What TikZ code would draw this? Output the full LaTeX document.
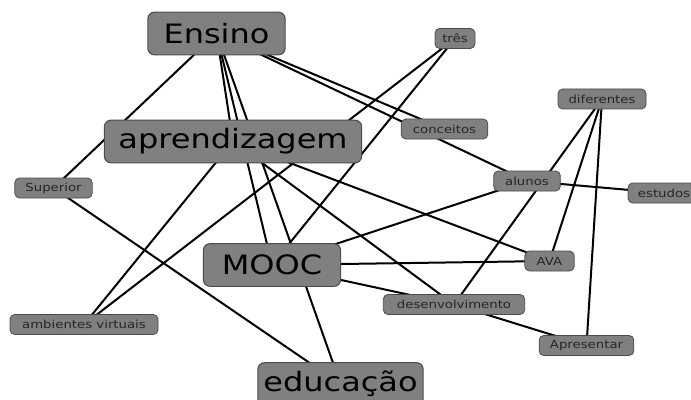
\documentclass[tikz,border=0pt]{standalone}
\usepackage{fontspec}
\setmainfont{DejaVu Sans}
\newfontfamily\mapfont[FakeStretch=1.2]{DejaVu Sans}
\usetikzlibrary{backgrounds}

\begin{document}
\begin{tikzpicture}[
        x=0.75pt, y=-0.75pt,
        big word/.style={draw=black!70, fill=black!50, rounded corners=5pt, line width=0.8pt,
          minimum height=32pt, inner sep=0pt, font=\mapfont\fontsize{20}{24}\selectfont},
        small word/.style={draw=black!70, fill=black!50, rounded corners=3.5pt, line width=0.6pt,
          minimum height=15pt, inner sep=0pt, text=black!85, font=\mapfont\fontsize{8.3}{10}\selectfont},
        link/.style={line width=1.5pt}
      ]

      \useasboundingbox (0,0) rectangle (691,399);

      % main terms
      \node[big word, minimum width=103pt] (ensino) at (216.5,33.5) {Ensino};
      \node[big word, minimum width=193pt] (aprend) at (233,141.5) {aprendizagem};
      \node[big word, minimum width=103pt] (mooc) at (272,265) {MOOC};
      \node[big word, minimum width=124pt] (educacao) at (340.5,384) {educação};

      % smaller terms
      \node[small word, minimum width=58pt] (superior) at (53.5,188) {Superior};
      \node[small word, minimum width=30pt] (tres) at (455,38.5) {três};
      \node[small word, minimum width=65pt] (conceitos) at (444.5,129) {conceitos};
      \node[small word, minimum width=66pt] (diferentes) at (602,99) {diferentes};
      \node[small word, minimum width=50pt] (alunos) at (527,181) {alunos};
      \node[small word, minimum width=54pt] (estudos) at (664,193) {estudos};
      \node[small word, minimum width=111pt] (ambientes) at (84,324.5) {ambientes virtuais};
      \node[small word, minimum width=37pt] (ava) at (549.5,261) {AVA};
      \node[small word, minimum width=106pt] (desenv) at (454,304.5) {desenvolvimento};
      \node[small word, minimum width=71pt] (apresentar) at (586.5,345.5) {Apresentar};

      \begin{pgfonlayer}{background}
        \foreach \a/\b in {ensino/aprend, ensino/superior, ensino/mooc, ensino/educacao,
            ensino/conceitos, ensino/alunos, tres/ambientes, tres/mooc,
            aprend/ambientes, aprend/desenv, aprend/ava, superior/educacao,
            mooc/alunos, mooc/ava, mooc/desenv, diferentes/desenv,
            diferentes/ava, diferentes/apresentar, alunos/estudos, desenv/apresentar}
          \draw[link] (\a.center) -- (\b.center);
      \end{pgfonlayer}

    \end{tikzpicture}
\end{document}
